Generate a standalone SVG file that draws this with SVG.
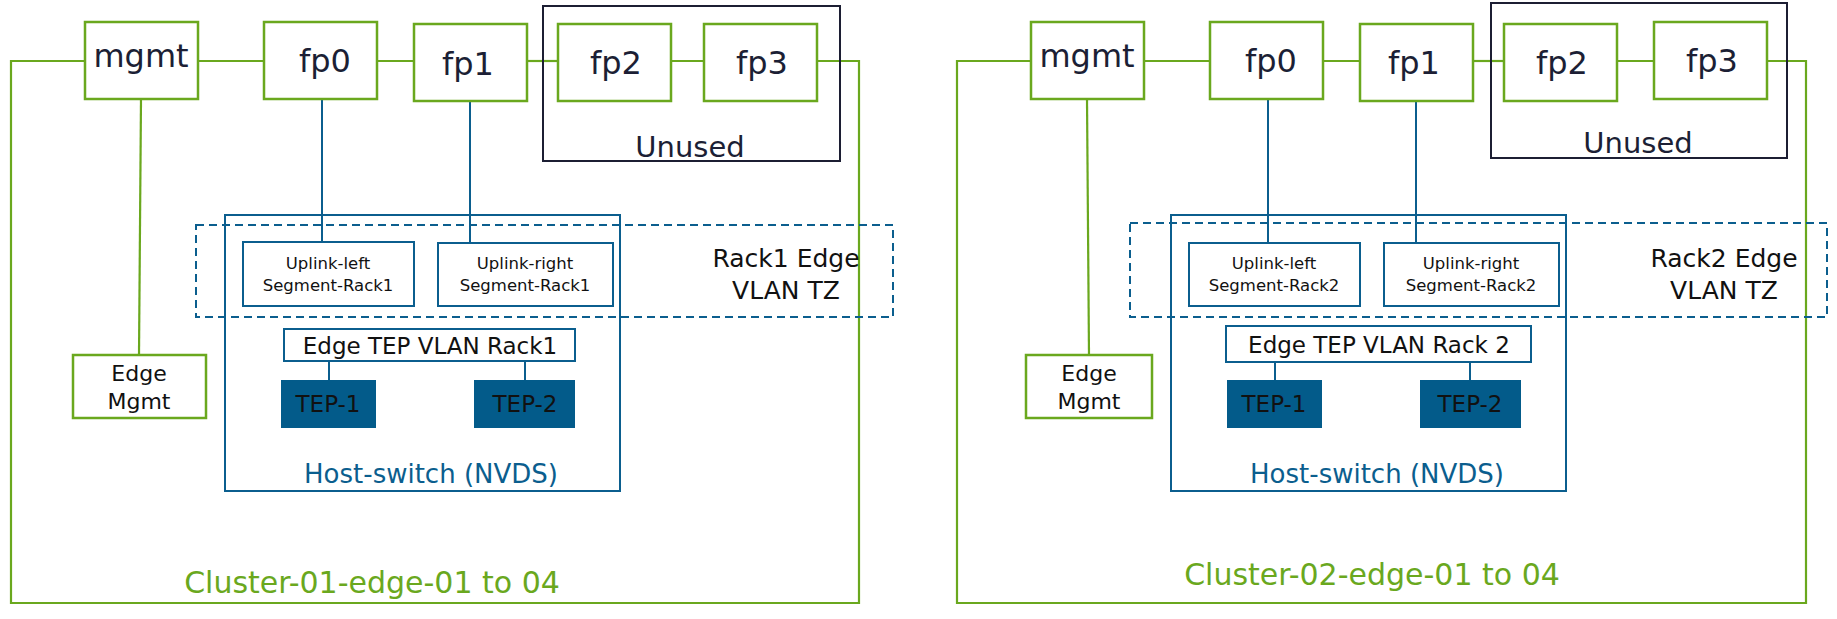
<svg xmlns="http://www.w3.org/2000/svg" width="1837" height="619" viewBox="0 0 1837 619">
<style>
text{font-family:"DejaVu Sans","Liberation Sans",sans-serif;text-anchor:middle}
.g{fill:#fff;stroke:#6aa81e;stroke-width:2.5}
.gl{fill:none;stroke:#6aa81e;stroke-width:2.2}
.bl{fill:none;stroke:#0b5e8e;stroke-width:2}
.bb{fill:#fff;stroke:#0b5e8e;stroke-width:2}
.dash{fill:none;stroke:#0b5e8e;stroke-width:2;stroke-dasharray:8 5}
.tep{fill:#035b8a}
.un{fill:none;stroke:#1c1e33;stroke-width:2}
.port{font-size:32px;fill:#1c1f35}
.un-t{font-size:29px;fill:#1c1f35}
.seg{font-size:16.5px;fill:#111}
.tz{font-size:25px;fill:#111}
.tept{font-size:23px;fill:#111}
.hs{font-size:26px;fill:#0b5e8e}
.cl{font-size:30px;fill:#6aa81e}
.em{font-size:22px;fill:#111}
</style>
<g id="connectors">
<polyline class="gl" points="85,61 11,61 11,603 859,603 859,61 817,61"/>
<line class="gl" x1="198" y1="61" x2="264" y2="61"/>
<line class="gl" x1="377" y1="61" x2="414" y2="61"/>
<line class="gl" x1="527" y1="61" x2="558" y2="61"/>
<line class="gl" x1="671" y1="61" x2="704" y2="61"/>
<line class="gl" x1="141" y1="99" x2="139" y2="355"/>
<line class="bl" x1="322" y1="99" x2="322" y2="242"/>
<line class="bl" x1="470" y1="101" x2="470" y2="243"/>
<line class="bl" x1="329" y1="361" x2="329" y2="380"/>
<line class="bl" x1="525" y1="361" x2="525" y2="380"/>
<polyline class="gl" points="1031,61 957,61 957,603 1806,603 1806,61 1767,61"/>
<line class="gl" x1="1144" y1="61" x2="1210" y2="61"/>
<line class="gl" x1="1323" y1="61" x2="1360" y2="61"/>
<line class="gl" x1="1473" y1="61" x2="1504" y2="61"/>
<line class="gl" x1="1617" y1="61" x2="1654" y2="61"/>
<line class="gl" x1="1087" y1="99" x2="1089" y2="355"/>
<line class="bl" x1="1268" y1="99" x2="1268" y2="243"/>
<line class="bl" x1="1416" y1="101" x2="1416" y2="243"/>
<line class="bl" x1="1275" y1="362" x2="1275" y2="380"/>
<line class="bl" x1="1470" y1="362" x2="1470" y2="380"/>
</g>
<g id="cluster1-label"><text class="cl" x="372" y="593">Cluster-01-edge-01 to 04</text></g>
<g id="unused1"><rect class="un" x="543" y="6" width="297" height="155"/><text class="un-t" x="690" y="157">Unused</text></g>
<g id="mgmt1"><rect class="g" x="85" y="22" width="113" height="77"/><text class="port" x="141" y="67">mgmt</text></g>
<g id="fp0-1"><rect class="g" x="264" y="22" width="113" height="77"/><text class="port" x="325" y="72">fp0</text></g>
<g id="fp1-1"><rect class="g" x="414" y="24" width="113" height="77"/><text class="port" x="468" y="75">fp1</text></g>
<g id="fp2-1"><rect class="g" x="558" y="24" width="113" height="77"/><text class="port" x="616" y="74">fp2</text></g>
<g id="fp3-1"><rect class="g" x="704" y="24" width="113" height="77"/><text class="port" x="762" y="74">fp3</text></g>
<g id="edgemgmt1"><rect class="g" x="73" y="355" width="133" height="63"/><text class="em" x="139" y="381">Edge</text><text class="em" x="139" y="409">Mgmt</text></g>
<g id="hostswitch1"><rect class="bl" x="225" y="215" width="395" height="276"/><text class="hs" x="431" y="483">Host-switch (NVDS)</text></g>
<g id="tz1"><rect class="dash" x="196" y="225" width="697" height="92"/><text class="tz" x="786" y="267">Rack1 Edge</text><text class="tz" x="786" y="299">VLAN TZ</text></g>
<g id="uplinkleft1"><rect class="bb" x="243" y="242" width="171" height="64"/><text class="seg" x="328" y="269">Uplink-left</text><text class="seg" x="328" y="291">Segment-Rack1</text></g>
<g id="uplinkright1"><rect class="bb" x="438" y="243" width="175" height="63"/><text class="seg" x="525" y="269">Uplink-right</text><text class="seg" x="525" y="291">Segment-Rack1</text></g>
<g id="teptvlan1"><rect class="bb" x="284" y="329" width="291" height="32"/><text class="tept" x="430" y="354">Edge TEP VLAN Rack1</text></g>
<g id="tep1-1"><rect class="tep" x="281" y="380" width="95" height="48"/><text class="tept" x="328" y="412">TEP-1</text></g>
<g id="tep2-1"><rect class="tep" x="474" y="380" width="101" height="48"/><text class="tept" x="525" y="412">TEP-2</text></g>
<g id="cluster2-label"><text class="cl" x="1372" y="585">Cluster-02-edge-01 to 04</text></g>
<g id="unused2"><rect class="un" x="1491" y="3" width="296" height="155"/><text class="un-t" x="1638" y="153">Unused</text></g>
<g id="mgmt2"><rect class="g" x="1031" y="22" width="113" height="77"/><text class="port" x="1087" y="67">mgmt</text></g>
<g id="fp0-2"><rect class="g" x="1210" y="22" width="113" height="77"/><text class="port" x="1271" y="72">fp0</text></g>
<g id="fp1-2"><rect class="g" x="1360" y="24" width="113" height="77"/><text class="port" x="1414" y="74">fp1</text></g>
<g id="fp2-2"><rect class="g" x="1504" y="24" width="113" height="77"/><text class="port" x="1562" y="74">fp2</text></g>
<g id="fp3-2"><rect class="g" x="1654" y="22" width="113" height="77"/><text class="port" x="1712" y="72">fp3</text></g>
<g id="edgemgmt2"><rect class="g" x="1026" y="355" width="126" height="63"/><text class="em" x="1089" y="381">Edge</text><text class="em" x="1089" y="409">Mgmt</text></g>
<g id="hostswitch2"><rect class="bl" x="1171" y="215" width="395" height="276"/><text class="hs" x="1377" y="483">Host-switch (NVDS)</text></g>
<g id="tz2"><rect class="dash" x="1130" y="223" width="697" height="94"/><text class="tz" x="1724" y="267">Rack2 Edge</text><text class="tz" x="1724" y="299">VLAN TZ</text></g>
<g id="uplinkleft2"><rect class="bb" x="1189" y="243" width="171" height="63"/><text class="seg" x="1274" y="269">Uplink-left</text><text class="seg" x="1274" y="291">Segment-Rack2</text></g>
<g id="uplinkright2"><rect class="bb" x="1384" y="243" width="175" height="63"/><text class="seg" x="1471" y="269">Uplink-right</text><text class="seg" x="1471" y="291">Segment-Rack2</text></g>
<g id="teptvlan2"><rect class="bb" x="1226" y="326" width="305" height="36"/><text class="tept" x="1379" y="353">Edge TEP VLAN Rack 2</text></g>
<g id="tep1-2"><rect class="tep" x="1227" y="380" width="95" height="48"/><text class="tept" x="1274" y="412">TEP-1</text></g>
<g id="tep2-2"><rect class="tep" x="1420" y="380" width="101" height="48"/><text class="tept" x="1470" y="412">TEP-2</text></g>
</svg>
